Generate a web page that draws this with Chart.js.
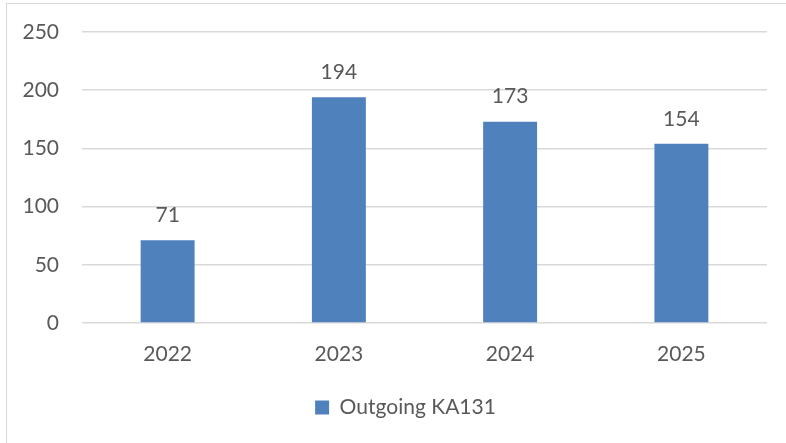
<!DOCTYPE html>
<html>
<head>
<meta charset="utf-8">
<script src="https://cdn.jsdelivr.net/npm/chart.js@4"></script>
<style>
  html, body { margin: 0; padding: 0; background: #fff; overflow: hidden; }
  #frame { position: absolute; left: 6px; top: 3px; width: 800px; height: 460px; border: 1px solid #d9d9d9; }
  #wrap { position: absolute; left: 0; top: 0; width: 786px; height: 443px; }
</style>
</head>
<body>
<div id="frame"></div>
<div id="wrap"><canvas id="chart"></canvas></div>
<script>
const years = ['2022', '2023', '2024', '2025'];
const outgoing = [71, 194, 173, 154];
const seriesName = 'Outgoing KA131';

const textColor = '#595959';
const fontFamily = 'Lato, "Noto Sans", sans-serif';

// value labels above each bar
const barLabels = {
    id: 'barLabels',
    afterDatasetsDraw(chart) {
        const ctx = chart.ctx;
        ctx.save();
        ctx.font = '21px ' + fontFamily;
        ctx.fillStyle = textColor;
        ctx.textAlign = 'center';
        ctx.textBaseline = 'middle';
        chart.getDatasetMeta(0).data.forEach((bar, i) => {
            ctx.fillText(String(chart.data.datasets[0].data[i]), bar.x, bar.y - 25);
        });
        ctx.restore();
    }
};

// legend sits centred under the plot area, not the whole canvas
const legendShift = {
    id: 'legendShift',
    afterLayout(chart) {
        chart.legend.left += 22;
        chart.legend.right += 22;
    }
};

function initChart() {
    const ctx = document.getElementById('chart').getContext('2d');
    new Chart(ctx, {
        type: 'bar',
        data: {
            labels: years,
            datasets: [{
                label: seriesName,
                data: outgoing,
                backgroundColor: '#4f81bd',
                borderWidth: 0,
                categoryPercentage: 1,
                barPercentage: 0.315
            }]
        },
        options: {
            responsive: true,
            maintainAspectRatio: false,
            animation: false,
            layout: { padding: { top: 32, right: 19, bottom: 15, left: 0 } },
            scales: {
                x: {
                    grid: { display: false, drawTicks: false },
                    border: { display: false },
                    ticks: { color: textColor, font: { family: fontFamily, size: 21 }, padding: 19 },
                    afterFit(scale) { scale.height = 60; }
                },
                y: {
                    min: 0, max: 250,
                    ticks: { stepSize: 50, color: textColor, font: { family: fontFamily, size: 21 }, padding: 23 },
                    grid: { color: '#d9d9d9', lineWidth: 1.5, drawTicks: false },
                    border: { display: false },
                    afterFit(scale) { scale.width = 82; scale.paddingTop = 0; }
                }
            },
            plugins: {
                legend: {
                    position: 'bottom',
                    labels: {
                        color: textColor,
                        font: { family: fontFamily, size: 21 },
                        boxWidth: 14,
                        boxHeight: 14,
                        padding: 14
                    }
                },
                tooltip: { enabled: false }
            }
        },
        plugins: [barLabels, legendShift]
    });
}

if (typeof Chart !== 'undefined') {
    initChart();
} else {
    window.addEventListener('load', initChart);
}
</script>
</body>
</html>
